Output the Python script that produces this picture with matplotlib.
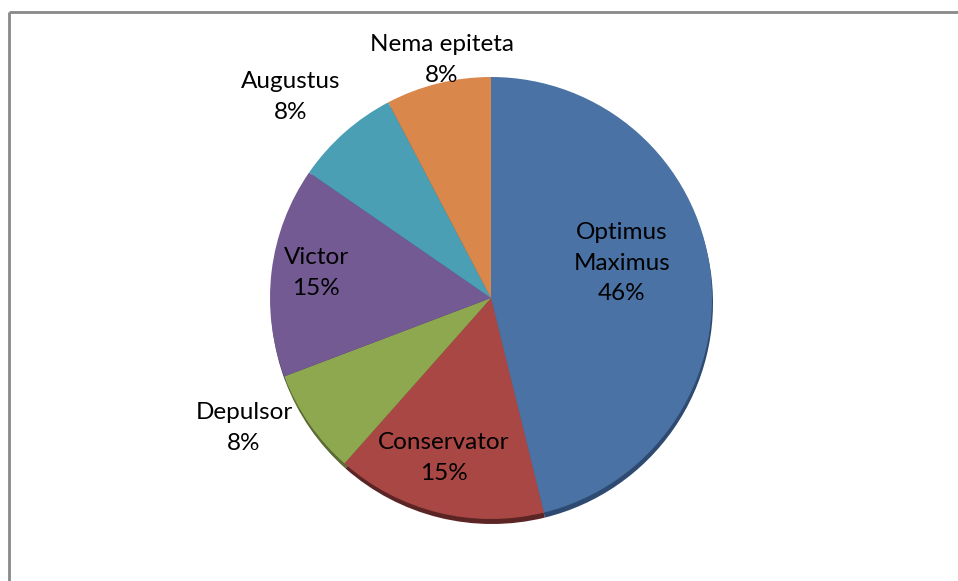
import matplotlib
matplotlib.use("Agg")
import matplotlib.pyplot as plt

# data
labels = ["Optimus\nMaximus", "Conservator", "Depulsor", "Victor", "Augustus", "Nema epiteta"]
counts = [6, 2, 1, 2, 1, 1]
colors = ["#4A72A5", "#A84744", "#8EA850", "#735A93", "#4A9FB5", "#D9874A"]
shade = ["#2E4A70", "#5A2524", "#5A6B33", "#4A3A60", "#2E6575", "#8A5530"]

# label centres in pixel coords (x from left, y from top)
label_pos = [(622, 263), (444, 458), (244, 428), (316, 273), (291, 97), (442, 60)]

W, H = 958, 581
fig = plt.figure(figsize=(W / 100, H / 100), dpi=100)
ax = fig.add_axes([0, 0, 1, 1])

cx, cy, r = 491, H - 298, 221

# shadow underneath
ax.pie(counts, colors=shade, startangle=90, counterclock=False, radius=r,
       center=(cx + 1, cy - 5), wedgeprops=dict(linewidth=0))
ax.pie(counts, colors=colors, startangle=90, counterclock=False, radius=r,
       center=(cx, cy), wedgeprops=dict(linewidth=0))
ax.set_xlim(0, W)
ax.set_ylim(0, H)
ax.set_aspect("equal")
ax.axis("off")

total = sum(counts)
for lab, c, (x, y) in zip(labels, counts, label_pos):
    ax.text(x, H - y, "%s\n%d%%" % (lab, round(100 * c / total)), ha="center", va="center",
            fontsize=17.5, family="Lato", linespacing=1.55, color="black")

# frame (only top and left edges are visible in the crop)
ax.plot([9, 9], [0, H - 12], color="#898989", lw=2, solid_capstyle="butt")
ax.plot([9, W], [H - 12, H - 12], color="#898989", lw=2, solid_capstyle="butt")

fig.savefig("out.png", dpi=100)
